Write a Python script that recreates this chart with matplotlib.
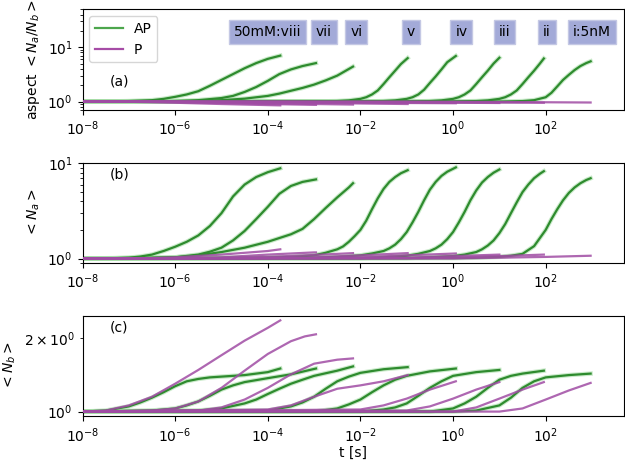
import numpy as np
import matplotlib
matplotlib.use("Agg")
from matplotlib import pyplot as plt
import matplotlib.transforms as mtransforms
from matplotlib.ticker import NullLocator, FixedLocator, LogFormatterSciNotation
from matplotlib.lines import Line2D

# condition labels (high -> low concentration) and their label positions (log10 t)
labels = ['50mM:viii', 'vii', 'vi', 'v', 'iv', 'iii', 'ii', 'i:5nM']
label_pos = [-4.0, -2.79, -2.09, -0.91, 0.18, 1.11, 2.03, 3.0]

# curves: time as log10(t [s]), one list per condition
# (a) aspect <Na/Nb>
asp_ap_t = [[-8, -7.5, -7, -6.5, -6.25, -6, -5.75, -5.5, -5.25, -5, -4.75, -4.5, -4.25, -4, -3.73],
            [-8, -6.5, -6, -5.5, -5, -4.75, -4.5, -4.25, -4, -3.75, -3.5, -3.25, -2.96],
            [-8, -6, -5.5, -5, -4.5, -4, -3.75, -3.5, -3.25, -3, -2.75, -2.5, -2.16],
            [-8, -3, -2.5, -2.25, -2.0, -1.875, -1.75, -1.625, -1.5, -1.375, -1.25, -1.125, -0.98],
            [-8, -2, -1.5, -1.25, -1.0, -0.875, -0.75, -0.625, -0.5, -0.375, -0.25, -0.125, 0.06],
            [-8, -1, -0.5, -0.25, 0, 0.125, 0.25, 0.375, 0.5, 0.625, 0.75, 0.875, 1.0],
            [-8, 0, 0.5, 0.75, 1.0, 1.125, 1.25, 1.375, 1.5, 1.625, 1.75, 1.875, 1.96],
            [-8, 1, 1.5, 1.75, 2.0, 2.125, 2.25, 2.375, 2.5, 2.625, 2.75, 2.875, 2.97]]
asp_ap_v = [[1.0, 1.0, 1.02, 1.06, 1.12, 1.22, 1.35, 1.55, 1.95, 2.5, 3.2, 4.1, 5.1, 6.1, 7.0],
            [1.0, 1.01, 1.02, 1.06, 1.16, 1.27, 1.5, 1.85, 2.4, 3.2, 3.9, 4.5, 5.1],
            [1.0, 1.0, 1.02, 1.06, 1.13, 1.27, 1.4, 1.58, 1.78, 2.05, 2.45, 3.0, 4.4],
            [1.0, 1.0, 1.02, 1.05, 1.12, 1.2, 1.35, 1.6, 2.1, 2.8, 3.7, 4.9, 6.3],
            [1.0, 1.0, 1.02, 1.05, 1.12, 1.2, 1.35, 1.65, 2.2, 2.9, 3.9, 5.3, 6.9],
            [1.0, 1.0, 1.02, 1.05, 1.12, 1.2, 1.35, 1.6, 2.1, 2.8, 3.7, 5.0, 6.4],
            [1.0, 1.0, 1.02, 1.05, 1.12, 1.2, 1.35, 1.6, 2.1, 2.8, 3.7, 5.0, 6.2],
            [1.0, 1.0, 1.02, 1.06, 1.2, 1.45, 1.9, 2.5, 3.1, 3.8, 4.5, 5.1, 5.5]]
asp_p_t = [[-8, -7, -6, -5, -4, -3.73],
           [-8, -6, -5, -4, -3, -2.96],
           [-8, -5, -4, -3, -2.16],
           [-8, -4, -3, -2, -0.98],
           [-8, -3, -2, -1, 0.06],
           [-8, -2, 0, 1.0],
           [-8, -1, 1, 1.96],
           [-8, 0, 2, 2.97]]
asp_p_v = [[1.0, 0.99, 0.95, 0.9, 0.86, 0.85],
           [1.0, 0.98, 0.94, 0.9, 0.87, 0.87],
           [1.0, 0.97, 0.93, 0.9, 0.88],
           [1.0, 0.98, 0.95, 0.92, 0.9],
           [1.0, 0.98, 0.96, 0.94, 0.93],
           [1.0, 0.98, 0.95, 0.94],
           [1.0, 0.99, 0.96, 0.95],
           [1.0, 0.99, 0.97, 0.96]]

# (b) <Na>
na_ap_t = [[-8, -7.5, -7, -6.75, -6.5, -6.25, -6, -5.75, -5.5, -5.25, -5, -4.75, -4.5, -4.25, -4, -3.73],
           [-8, -6.5, -6, -5.5, -5.25, -5, -4.75, -4.5, -4.25, -4, -3.75, -3.5, -3.25, -2.96],
           [-8, -6, -5.5, -5, -4.5, -4, -3.5, -3.25, -3, -2.75, -2.5, -2.25, -2.16],
           [-8, -4, -3.5, -3, -2.75, -2.5, -2.375, -2.25, -2.125, -2.0, -1.875, -1.75, -1.625, -1.5,
            -1.375, -1.25, -1.125, -0.98],
           [-8, -3, -2.5, -2, -1.75, -1.5, -1.375, -1.25, -1.125, -1.0, -0.875, -0.75, -0.625, -0.5,
            -0.375, -0.25, -0.125, 0.06],
           [-8, -2, -1.5, -1, -0.75, -0.5, -0.375, -0.25, -0.125, 0, 0.125, 0.25, 0.375, 0.5,
            0.625, 0.75, 0.875, 1.0],
           [-8, -1, -0.5, 0, 0.25, 0.5, 0.625, 0.75, 0.875, 1.0, 1.125, 1.25, 1.375, 1.5,
            1.625, 1.75, 1.875, 1.96],
           [-8, 0, 0.5, 1.0, 1.25, 1.5, 1.75, 2.0, 2.125, 2.25, 2.375, 2.5, 2.625, 2.75, 2.875, 2.97]]
na_ap_v = [[1.0, 1.0, 1.02, 1.05, 1.1, 1.2, 1.33, 1.5, 1.75, 2.2, 3.0, 4.5, 6.0, 7.2, 8.1, 8.9],
           [1.0, 1.01, 1.03, 1.1, 1.18, 1.3, 1.55, 1.95, 2.6, 3.5, 4.8, 5.8, 6.4, 6.8],
           [1.0, 1.03, 1.08, 1.17, 1.3, 1.5, 1.8, 2.05, 2.6, 3.4, 4.4, 5.6, 6.2],
           [1.0, 1.02, 1.04, 1.08, 1.15, 1.25, 1.34, 1.5, 1.72, 2.0, 2.5, 3.3, 4.3, 5.4,
            6.4, 7.2, 7.9, 8.5],
           [1.0, 1.02, 1.04, 1.08, 1.13, 1.2, 1.28, 1.4, 1.6, 1.9, 2.4, 3.1, 4.1, 5.3,
            6.4, 7.4, 8.2, 9.1],
           [1.0, 1.01, 1.03, 1.07, 1.12, 1.2, 1.28, 1.4, 1.6, 1.9, 2.4, 3.1, 4.1, 5.2,
            6.3, 7.2, 8.0, 8.65],
           [1.0, 1.01, 1.03, 1.06, 1.1, 1.17, 1.25, 1.37, 1.55, 1.85, 2.3, 3.0, 3.9, 5.0,
            6.0, 7.0, 7.8, 8.3],
           [1.0, 1.01, 1.02, 1.04, 1.07, 1.12, 1.35, 2.0, 2.6, 3.3, 4.1, 4.9, 5.6, 6.2, 6.7, 7.0]]
na_p_t = [[-8, -6.5, -6, -5, -4, -3.73],
          [-8, -6, -5, -4, -3, -2.96],
          [-8, -5, -4, -3, -2.16],
          [-8, -4, -3, -2, -0.98],
          [-8, -3, -2, -1, 0.06],
          [-8, -2, -1, 0, 1.0],
          [-8, -1, 0, 1, 1.96],
          [-8, 0, 1, 2, 2.97]]
na_p_v = [[1.0, 1.01, 1.03, 1.1, 1.2, 1.25],
          [1.0, 1.01, 1.03, 1.1, 1.16, 1.16],
          [1.0, 1.01, 1.04, 1.09, 1.14],
          [1.0, 1.01, 1.03, 1.08, 1.14],
          [1.0, 1.01, 1.03, 1.08, 1.13],
          [1.0, 1.01, 1.02, 1.06, 1.10],
          [1.0, 1.01, 1.02, 1.06, 1.10],
          [1.0, 1.0, 1.02, 1.04, 1.07]]

# (c) <Nb>
nb_ap_t = [[-8, -7.5, -7, -6.75, -6.5, -6.25, -6, -5.75, -5.5, -5.25, -5, -4.5, -4, -3.73],
           [-8, -6.5, -6, -5.75, -5.5, -5.25, -5, -4.75, -4.5, -4, -3.5, -2.96],
           [-8, -5.5, -5, -4.5, -4.25, -4, -3.75, -3.5, -3.25, -3, -2.5, -2.16],
           [-8, -4, -3.5, -3.25, -3, -2.75, -2.5, -2.25, -2, -1.5, -0.98],
           [-8, -3, -2.5, -2.25, -2, -1.75, -1.5, -1.25, -1, -0.5, 0.06],
           [-8, -2, -1.5, -1.25, -1, -0.75, -0.5, -0.25, 0, 0.5, 1.0],
           [-8, -0.5, 0, 0.25, 0.5, 0.75, 1.0, 1.25, 1.5, 1.96],
           [-8, 0, 0.5, 1.0, 1.25, 1.5, 1.75, 2.0, 2.5, 2.97]]
nb_ap_v = [[1.0, 1.01, 1.05, 1.09, 1.14, 1.2, 1.27, 1.33, 1.36, 1.38, 1.39, 1.41, 1.45, 1.50],
           [1.0, 1.01, 1.03, 1.06, 1.1, 1.16, 1.23, 1.28, 1.32, 1.37, 1.42, 1.50],
           [1.0, 1.01, 1.03, 1.08, 1.12, 1.18, 1.24, 1.3, 1.35, 1.4, 1.47, 1.53],
           [1.0, 1.01, 1.05, 1.09, 1.15, 1.24, 1.33, 1.39, 1.44, 1.49, 1.52],
           [1.0, 1.0, 1.03, 1.07, 1.12, 1.2, 1.28, 1.35, 1.4, 1.46, 1.50],
           [1.0, 1.0, 1.02, 1.04, 1.08, 1.16, 1.25, 1.33, 1.4, 1.45, 1.48],
           [1.0, 1.0, 1.03, 1.08, 1.15, 1.25, 1.35, 1.4, 1.43, 1.47],
           [1.0, 1.0, 1.01, 1.06, 1.14, 1.25, 1.33, 1.38, 1.41, 1.43]]
nb_p_t = [[-8, -7.5, -7, -6.5, -6, -5.5, -5, -4.5, -4, -3.73],
          [-8, -6.5, -6, -5.5, -5, -4.5, -4, -3.5, -3.2, -2.96],
          [-8, -5.5, -5, -4.5, -4, -3.5, -3, -2.5, -2.16],
          [-8, -4, -3.5, -3, -2.5, -2, -1.5, -0.98],
          [-8, -2, -1.5, -1, -0.5, 0.06],
          [-8, -1, -0.5, 0, 0.5, 1.0],
          [-8, 0, 0.5, 1.0, 1.5, 1.96],
          [-8, 1.0, 1.5, 2.0, 2.5, 2.97]]
nb_p_v = [[1.0, 1.01, 1.06, 1.15, 1.3, 1.48, 1.7, 1.95, 2.2, 2.36],
          [1.0, 1.01, 1.03, 1.1, 1.25, 1.47, 1.72, 1.94, 2.03, 2.07],
          [1.0, 1.01, 1.04, 1.12, 1.25, 1.42, 1.57, 1.63, 1.65],
          [1.0, 1.02, 1.06, 1.15, 1.24, 1.28, 1.33, 1.41],
          [1.0, 1.02, 1.06, 1.13, 1.23, 1.33],
          [1.0, 1.01, 1.05, 1.13, 1.23, 1.32],
          [1.0, 1.0, 1.04, 1.13, 1.23, 1.32],
          [1.0, 1.0, 1.03, 1.12, 1.22, 1.31]]

GREEN = '#2e8b2e'
PURPLE = '#a04ca4'

fig = plt.figure(figsize=(6.25, 4.62), dpi=100)
ax_a = fig.add_axes([0.132, 0.762, 0.867, 0.218])
ax_b = fig.add_axes([0.132, 0.431, 0.867, 0.216])
ax_c = fig.add_axes([0.132, 0.099, 0.867, 0.218])


def draw(ax, ap_t, ap_v, p_t, p_v):
    for i in range(len(labels)):
        t = 10.0 ** np.array(ap_t[i])
        ax.plot(t, ap_v[i], color='#a6dca6', lw=3.2, alpha=0.6, zorder=1)
        ax.plot(t, ap_v[i], color=GREEN, lw=1.6, zorder=2)
        t = 10.0 ** np.array(p_t[i])
        ax.plot(t, p_v[i], color=PURPLE, lw=1.6, alpha=0.85, zorder=3)


draw(ax_a, asp_ap_t, asp_ap_v, asp_p_t, asp_p_v)
draw(ax_b, na_ap_t, na_ap_v, na_p_t, na_p_v)
draw(ax_c, nb_ap_t, nb_ap_v, nb_p_t, nb_p_v)

for ax in (ax_a, ax_b, ax_c):
    ax.set_xscale('log')
    ax.set_yscale('log')
    ax.set_xlim(1e-8, 5e3)
    ax.set_xticks([1e-8, 1e-6, 1e-4, 1e-2, 1e0, 1e2])
    ax.xaxis.set_minor_locator(NullLocator())

ax_a.set_ylim(0.7, 50)
ax_b.set_ylim(0.9, 10.1)
ax_c.set_ylim(0.957, 2.47)
ax_c.yaxis.set_minor_locator(FixedLocator([2.0]))
ax_c.yaxis.set_minor_formatter(LogFormatterSciNotation(labelOnlyBase=False))

ax_a.set_ylabel(r'aspect $<N_a/N_b>$')
ax_b.set_ylabel(r'$<N_a>$')
ax_c.set_ylabel(r'$<N_b>$')
ax_c.set_xlabel('t [s]', labelpad=1)

ax_a.text(0.068, 0.28, '(a)', transform=ax_a.transAxes, ha='center', va='center', fontsize=10)
ax_b.text(0.068, 0.887, '(b)', transform=ax_b.transAxes, ha='center', va='center', fontsize=10)
ax_c.text(0.068, 0.885, '(c)', transform=ax_c.transAxes, ha='center', va='center', fontsize=10)

trans = mtransforms.blended_transform_factory(ax_a.transData, ax_a.transAxes)
for lab, pos in zip(labels, label_pos):
    ax_a.text(10.0 ** pos, 0.775, lab, transform=trans, ha='center', va='center',
              fontsize=10, bbox=dict(boxstyle='square,pad=0.35', facecolor='#a3aad8',
                                     edgecolor='#c4c8e4', lw=1))

handles = [Line2D([], [], color='#4ca64c', lw=1.6),
           Line2D([], [], color='#a64ca6', lw=1.6)]
ax_a.legend(handles, ['AP', 'P'], loc='upper left')

fig.savefig('out.png', dpi=100)
